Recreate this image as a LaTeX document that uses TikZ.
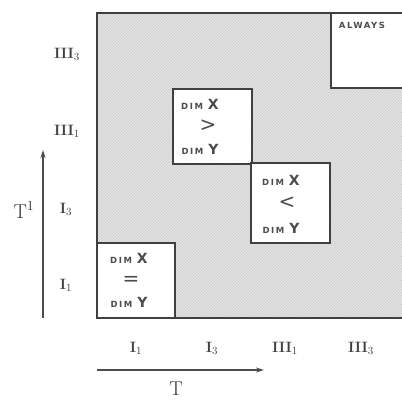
\documentclass[tikz,border=0pt]{standalone}
\usepackage{fontspec}
\usetikzlibrary{patterns,arrows.meta}
\newfontfamily\boxfont{DejaVu Sans}
\newfontfamily\spacedfont[LetterSpace=18]{DejaVu Sans}
\begin{document}
\begin{tikzpicture}[x=1pt,y=-1pt,
  region/.style={fill=white,draw=black!75,line width=1.3pt},
  dimtext/.style={font=\boxfont\color{black!70}},
  symtext/.style={font=\fontsize{20}{20}\selectfont\boxfont\color{black!70}},
  lbl/.style={font=\fontsize{15}{18}\selectfont\bfseries,text=black!75,inner sep=0pt},
  axisarrow/.style={draw=black!70,line width=1.4pt,-{Stealth[length=8pt,width=5pt]}}]
\useasboundingbox (0,0) rectangle (402,400);
% shaded square
\fill[gray!22] (97,13) rectangle (402,318);
\fill[pattern=north east lines,pattern color=gray!40] (97,13) rectangle (402,318);
\draw[black!75,line width=1.4pt] (402,13) -- (97,13) -- (97,318) -- (402,318);
% white regions
\draw[region] (97,243) rectangle (175,318);
\draw[region] (173,89) rectangle (252,164);
\draw[region] (251,163) rectangle (330,243);
\draw[region] (331,13) rectangle (403,88);
% box texts
\newcommand{\dimline}[1]{{\spacedfont\bfseries\fontsize{8.5}{9}\selectfont DIM}\hspace{5pt}{\fontsize{14}{15}\selectfont\bfseries #1}}
\node[dimtext] (eqx) at (129,258) {\dimline{X}};
\node[symtext] (eqs) at (131,281) {=};
\node[dimtext] (eqy) at (129,302) {\dimline{Y}};
\node[dimtext] (gtx) at (200,104) {\dimline{X}};
\node[symtext] (gts) at (208,126) {>};
\node[dimtext] (gty) at (200,149) {\dimline{Y}};
\node[dimtext] (ltx) at (281,180) {\dimline{X}};
\node[symtext] (lts) at (287,203) {<};
\node[dimtext] (lty) at (281,228) {\dimline{Y}};
\node[font=\spacedfont\bfseries\fontsize{8.5}{9}\selectfont,text=black!70] (alw) at (362,25) {ALWAYS};
% row labels
\node[lbl] (r4) at (67,54) {III$_3$};
\node[lbl] (r3) at (67,131) {III$_1$};
\node[lbl] (r2) at (66,209) {I$_3$};
\node[lbl] (r1) at (66,285) {I$_1$};
% column labels
\node[lbl] (c1) at (136,348) {I$_1$};
\node[lbl] (c2) at (212,348) {I$_3$};
\node[lbl] (c3) at (285,348) {III$_1$};
\node[lbl] (c4) at (361,348) {III$_3$};
% axes
\coordinate (vb) at (43,318);
\coordinate (vt) at (43,150);
\coordinate (hl) at (97,370);
\coordinate (hr) at (264,370);
\draw[axisarrow] (vb) -- (vt);
\draw[axisarrow] (hl) -- (hr);
\node[font=\fontsize{20}{22}\selectfont,text=black!80] (tp) at (24,210) {T\textsuperscript{1}};
\node[font=\fontsize{20}{22}\selectfont,text=black!80] (t) at (176,389) {T};
\end{tikzpicture}
\end{document}
